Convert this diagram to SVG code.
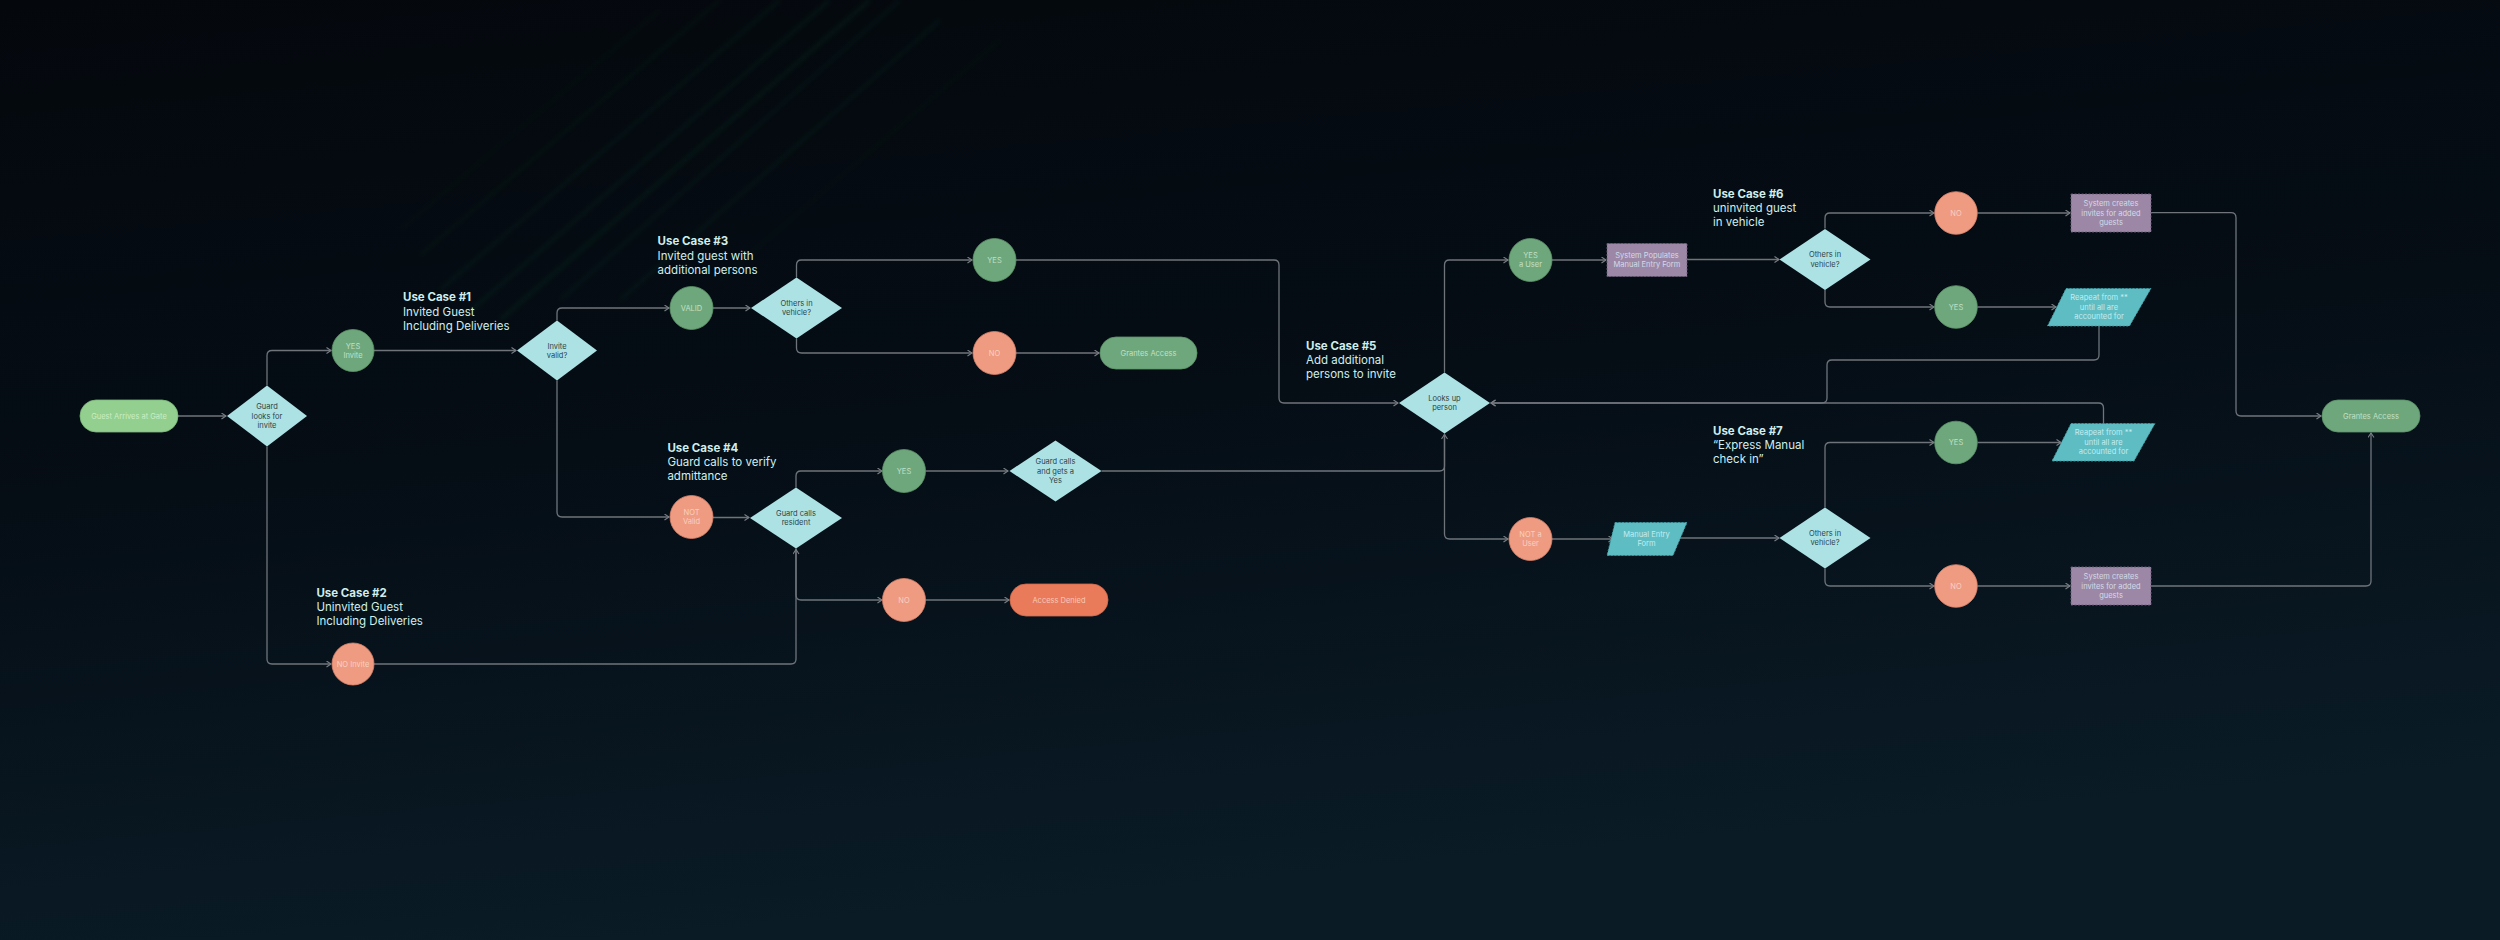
<svg xmlns="http://www.w3.org/2000/svg" width="2500" height="940" viewBox="0 0 2500 940">
<defs>
<linearGradient id="bg" x1="0" y1="0" x2="0.25" y2="1">
<stop offset="0" stop-color="#04080d"/>
<stop offset="0.5" stop-color="#050d15"/>
<stop offset="1" stop-color="#0a1b26"/>
</linearGradient>
<filter id="blur" x="-20%" y="-20%" width="140%" height="140%"><feGaussianBlur stdDeviation="2.5"/></filter>
<marker id="arr" markerWidth="8" markerHeight="8" refX="5" refY="3.5" orient="auto" markerUnits="userSpaceOnUse">
<path d="M0.5,0.5 L5,3.5 L0.5,6.5" fill="none" stroke="#7a7f85" stroke-width="1.1"/>
</marker>
<style>
.edge{fill:none;stroke:#6f747a;stroke-width:1.3;marker-end:url(#arr)}
.dia{fill:#ade2e5}
.cg{fill:#6ea77c;stroke:#5e9569;stroke-width:0.8}
.cs{fill:#ee9b81;stroke:#d9836b;stroke-width:0.8}
.pur{fill:#9c88a6;stroke:#6d5e7a;stroke-width:0.9;stroke-dasharray:2 1.5}
.teal{fill:#5ebcc3;stroke:#3f9aa1;stroke-width:0.9;stroke-dasharray:2 1.5}
.nt{font-family:Inter,"Liberation Sans",sans-serif;font-size:7.5px;text-anchor:middle;dominant-baseline:central}
.dk{fill:#2c4447}
.tg{fill:#c2e0c6}
.ts{fill:#f9d0c0}
.tp{fill:#d2dbe8}
.tt{fill:#c4ecef}
.uc{font-family:Inter,"Liberation Sans",sans-serif;font-size:11.5px;fill:#cfeeed;dominant-baseline:central}
.uc .b{font-weight:bold}
.st{stroke:#2f7d48;stroke-width:3;fill:none}
</style>
</defs>
<rect width="2500" height="940" fill="url(#bg)"/>
<g id="streaks" filter="url(#blur)">
<path class="st" d="M870,0 L500,320" stroke-opacity="0.14"/>
<path class="st" d="M830,0 L460,320" stroke-opacity="0.12"/>
<path class="st" d="M780,0 L440,290" stroke-opacity="0.1"/>
<path class="st" d="M720,0 L420,255" stroke-opacity="0.08"/>
<path class="st" d="M940,20 L620,300" stroke-opacity="0.1"/>
<path class="st" d="M1000,40 L720,280" stroke-opacity="0.06"/>
<path class="st" d="M660,10 L400,230" stroke-opacity="0.06"/>
<path class="st" d="M900,0 L560,300" stroke-opacity="0.1"/>
</g>

<g id="connectors">
<path class="edge" d="M178,416 H226"/>
<path class="edge" d="M267,385.5 V355.5 Q267,350.5 272,350.5 H331"/>
<path class="edge" d="M267,446.5 V659 Q267,664 272,664 H331"/>
<path class="edge" d="M374,350.5 H516"/>
<path class="edge" d="M557,320.5 V313 Q557,308 562,308 H669"/>
<path class="edge" d="M713,308 H750"/>
<path class="edge" d="M796.5,277.5 V265 Q796.5,260 801.5,260 H972"/>
<path class="edge" d="M796.5,338.5 V348 Q796.5,353 801.5,353 H972"/>
<path class="edge" d="M1016,353 H1099"/>
<path class="edge" d="M1016,260 H1274 Q1279,260 1279,265 V398 Q1279,403 1284,403 H1398"/>
<path class="edge" d="M557,380.5 V512 Q557,517 562,517 H669"/>
<path class="edge" d="M713,517.5 H749"/>
<path class="edge" d="M796,487.5 V476 Q796,471 801,471 H882"/>
<path class="edge" d="M925.5,471 H1008"/>
<path class="edge" d="M1101.5,471 H1439.5 Q1444.5,471 1444.5,466 V434.5"/>
<path class="edge" d="M796,548.5 V595 Q796,600 801,600 H882"/>
<path class="edge" d="M925.5,600 H1009"/>
<path class="edge" d="M374,664 H791 Q796,664 796,659 V549.5"/>
<path class="edge" d="M1444.5,372.5 V265 Q1444.5,260 1449.5,260 H1508"/>
<path class="edge" d="M1552,260 H1606"/>
<path class="edge" d="M1444.5,433.5 V534 Q1444.5,539 1449.5,539 H1508"/>
<path class="edge" d="M1552,539 H1613"/>
<path class="edge" d="M1687,259.5 H1779"/>
<path class="edge" d="M1825,228.5 V218 Q1825,213 1830,213 H1934"/>
<path class="edge" d="M1825,289.5 V302 Q1825,307 1830,307 H1934"/>
<path class="edge" d="M1977.5,213 H2070"/>
<path class="edge" d="M1977.5,307 H2056"/>
<path class="edge" d="M2151,212.7 H2231 Q2236,212.7 2236,217.7 V411 Q2236,416 2241,416 H2321"/>
<path class="edge" d="M2099,326 V355 Q2099,360 2094,360 H1832 Q1827,360 1827,365 V398 Q1827,403 1822,403 H1491"/>
<path class="edge" d="M2103.5,423.5 V408 Q2103.5,403 2098.5,403 H1491"/>
<path class="edge" d="M1680,538 H1779"/>
<path class="edge" d="M1825,507.5 V447.5 Q1825,442.5 1830,442.5 H1934"/>
<path class="edge" d="M1825,568.5 V581 Q1825,586 1830,586 H1934"/>
<path class="edge" d="M1977.5,442.5 H2061"/>
<path class="edge" d="M1977.5,586 H2070"/>
<path class="edge" d="M2151,586 H2366 Q2371,586 2371,581 V433"/>
</g>

<g id="labels" class="uc">
<text x="403" y="297.3"><tspan class="b">Use Case #1</tspan><tspan x="403" y="311.7">Invited Guest</tspan><tspan x="403" y="325.7">Including  Deliveries</tspan></text>
<text x="316.4" y="592.7"><tspan class="b">Use Case #2</tspan><tspan x="316.4" y="606.7">Uninvited Guest</tspan><tspan x="316.4" y="621">Including  Deliveries</tspan></text>
<text x="657.6" y="241.3"><tspan class="b">Use Case #3</tspan><tspan x="657.6" y="255.7">Invited guest with</tspan><tspan x="657.6" y="269.7">additional persons</tspan></text>
<text x="667.4" y="447.7"><tspan class="b">Use Case #4</tspan><tspan x="667.4" y="462">Guard calls to verify</tspan><tspan x="667.4" y="476">admittance</tspan></text>
<text x="1306" y="346"><tspan class="b">Use Case #5</tspan><tspan x="1306" y="360.3">Add additional</tspan><tspan x="1306" y="374.3">persons to invite</tspan></text>
<text x="1713" y="194"><tspan class="b">Use Case #6</tspan><tspan x="1713" y="208.3">uninvited guest</tspan><tspan x="1713" y="222.3">in vehicle</tspan></text>
<text x="1713" y="431"><tspan class="b">Use Case #7</tspan><tspan x="1713" y="445.3">“Express Manual</tspan><tspan x="1713" y="459.3">check in”</tspan></text>
</g>

<g id="start"><rect x="80" y="400" width="98" height="32" rx="16" fill="#93cf8f" stroke="#7fb97b" stroke-width="0.8"/><text class="nt" x="129" y="416" fill="#c9eec4">Guest Arrives at Gate</text></g>
<g id="d_guard"><polygon class="dia" points="267,385.5 307,416 267,446.5 227,416"/><text class="nt dk" x="267" y="406.7">Guard</text><text class="nt dk" x="267" y="416">looks for</text><text class="nt dk" x="267" y="425.5">invite</text></g>
<g id="c_yes_invite"><circle class="cg" cx="353" cy="350.5" r="21"/><text class="nt tg" x="353" y="346">YES</text><text class="nt tg" x="353" y="355.3">Invite</text></g>
<g id="c_no_invite"><circle class="cs" cx="353" cy="664" r="21"/><text class="nt ts" x="353" y="664">NO Invite</text></g>
<g id="d_invite_valid"><polygon class="dia" points="557,320.5 597,350.5 557,380.5 517,350.5"/><text class="nt dk" x="557" y="346">Invite</text><text class="nt dk" x="557" y="355.3">valid?</text></g>
<g id="c_valid"><circle class="cg" cx="691.5" cy="308" r="21.5"/><text class="nt tg" x="691.5" y="308">VALID</text></g>
<g id="d_others3"><polygon class="dia" points="796.5,277.5 842,308 796.5,338.5 751,308"/><text class="nt dk" x="796.5" y="303.5">Others in</text><text class="nt dk" x="796.5" y="312.8">vehicle?</text></g>
<g id="c_yes3"><circle class="cg" cx="994.5" cy="260" r="21.5"/><text class="nt tg" x="994.5" y="260">YES</text></g>
<g id="c_no3"><circle class="cs" cx="994.5" cy="353" r="21.5"/><text class="nt ts" x="994.5" y="353">NO</text></g>
<g id="grant1"><rect x="1100" y="337" width="97" height="32" rx="16" fill="#6ea77c" stroke="#5e9569" stroke-width="0.8"/><text class="nt tg" x="1148.5" y="353">Grantes Access</text></g>
<g id="c_notvalid"><circle class="cs" cx="691.5" cy="517" r="21.5"/><text class="nt ts" x="691.5" y="512.5">NOT</text><text class="nt ts" x="691.5" y="521.8">Valid</text></g>
<g id="d_calls"><polygon class="dia" points="796,487.5 842,518 796,548.5 750,518"/><text class="nt dk" x="796" y="513.3">Guard calls</text><text class="nt dk" x="796" y="522.6">resident</text></g>
<g id="c_yes4"><circle class="cg" cx="904" cy="471" r="21.5"/><text class="nt tg" x="904" y="471">YES</text></g>
<g id="d_getsyes"><polygon class="dia" points="1055.5,440.5 1101.5,471 1055.5,501.5 1009.5,471"/><text class="nt dk" x="1055.5" y="461.7">Guard calls</text><text class="nt dk" x="1055.5" y="471">and gets a</text><text class="nt dk" x="1055.5" y="480.3">Yes</text></g>
<g id="c_no4"><circle class="cs" cx="904" cy="600" r="21.5"/><text class="nt ts" x="904" y="600">NO</text></g>
<g id="denied"><rect x="1010" y="584" width="98" height="32" rx="16" fill="#e97b5b" stroke="#d26a4d" stroke-width="0.8"/><text class="nt" x="1059" y="600" fill="#f8c8b6">Access Denied</text></g>
<g id="d_lookup"><polygon class="dia" points="1444.5,372.5 1490,403 1444.5,433.5 1399,403"/><text class="nt dk" x="1444.5" y="398.3">Looks up</text><text class="nt dk" x="1444.5" y="407.6">person</text></g>
<g id="c_yesuser"><circle class="cg" cx="1530.5" cy="260" r="21.5"/><text class="nt tg" x="1530.5" y="255.3">YES</text><text class="nt tg" x="1530.5" y="264.6">a User</text></g>
<g id="r_syspop"><rect class="pur" x="1607" y="243.5" width="80" height="33"/><text class="nt tp" x="1647" y="255.3">System Populates</text><text class="nt tp" x="1647" y="264.6">Manual Entry Form</text></g>
<g id="c_notuser"><circle class="cs" cx="1530.5" cy="539" r="21.5"/><text class="nt ts" x="1530.5" y="534.3">NOT a</text><text class="nt ts" x="1530.5" y="543.6">User</text></g>
<g id="p_manual"><polygon class="teal" points="1615,522.5 1687,522.5 1673,555.5 1607,555.5"/><text class="nt tt" x="1646.5" y="534.3">Manual Entry</text><text class="nt tt" x="1646.5" y="543.6">Form</text></g>
<g id="d_others6"><polygon class="dia" points="1825,229 1870.5,259.5 1825,290 1779.5,259.5"/><text class="nt dk" x="1825" y="254.8">Others in</text><text class="nt dk" x="1825" y="264.1">vehicle?</text></g>
<g id="c_no6"><circle class="cs" cx="1956" cy="213" r="21.3"/><text class="nt ts" x="1956" y="213">NO</text></g>
<g id="c_yes6"><circle class="cg" cx="1956" cy="307" r="21.3"/><text class="nt tg" x="1956" y="307">YES</text></g>
<g id="r_create6"><rect class="pur" x="2071" y="194" width="80" height="38"/><text class="nt tp" x="2111" y="203.7">System creates</text><text class="nt tp" x="2111" y="213">invites for  added</text><text class="nt tp" x="2111" y="222.3">guests</text></g>
<g id="p_repeat6"><polygon class="teal" points="2066,288.5 2151,288.5 2129.5,326 2047.5,326"/><text class="nt tt" x="2099" y="297.8">Reapeat from  **</text><text class="nt tt" x="2099" y="307.1">until all are</text><text class="nt tt" x="2099" y="316.4">accounted for</text></g>
<g id="d_others7"><polygon class="dia" points="1825,507.5 1870.5,538 1825,568.5 1779.5,538"/><text class="nt dk" x="1825" y="533.3">Others in</text><text class="nt dk" x="1825" y="542.6">vehicle?</text></g>
<g id="c_yes7"><circle class="cg" cx="1956" cy="442.5" r="21.3"/><text class="nt tg" x="1956" y="442.5">YES</text></g>
<g id="c_no7"><circle class="cs" cx="1956" cy="586" r="21.3"/><text class="nt ts" x="1956" y="586">NO</text></g>
<g id="p_repeat7"><polygon class="teal" points="2071,423.5 2155,423.5 2134,461 2052,461"/><text class="nt tt" x="2103.5" y="432.8">Reapeat from  **</text><text class="nt tt" x="2103.5" y="442.1">until all are</text><text class="nt tt" x="2103.5" y="451.4">accounted for</text></g>
<g id="r_create7"><rect class="pur" x="2071" y="567" width="80" height="38"/><text class="nt tp" x="2111" y="576.7">System creates</text><text class="nt tp" x="2111" y="586">invites for  added</text><text class="nt tp" x="2111" y="595.3">guests</text></g>
<g id="grant2"><rect x="2322" y="400" width="98" height="32" rx="16" fill="#6ea77c" stroke="#5e9569" stroke-width="0.8"/><text class="nt tg" x="2371" y="416">Grantes Access</text></g>
</svg>
